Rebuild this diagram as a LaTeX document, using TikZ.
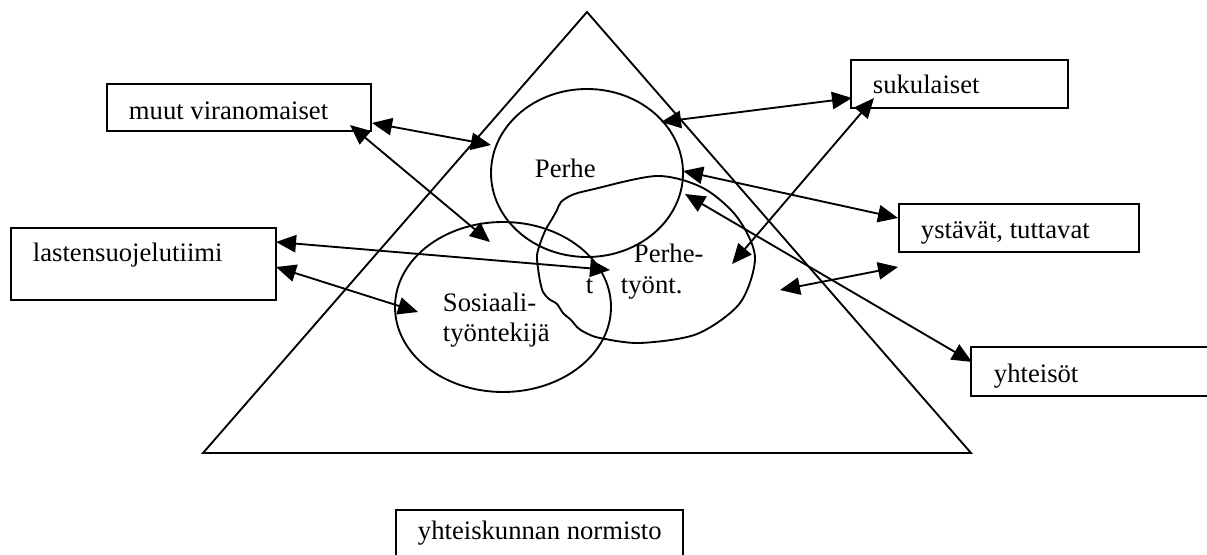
\documentclass[tikz,border=0pt]{standalone}
\usepackage{fontspec}
\setmainfont{Liberation Serif}
\usetikzlibrary{arrows.meta,shapes.geometric,fit}
\begin{document}
\begin{tikzpicture}[x=0.75pt,y=-0.75pt,
  line width=1.4pt,
  box/.style={draw, rectangle, inner sep=0pt},
  lbl/.style={font=\fontsize{20}{24}\selectfont, inner sep=0pt, anchor=base west},
  oval/.style={draw, ellipse, inner sep=0pt},
  dbl/.style={{Triangle[length=15pt,width=13pt]}-{Triangle[length=15pt,width=13pt]}}]
\useasboundingbox (0,0) rectangle (1207,555);
\clip (0,0) rectangle (1207,555);

% triangle
\draw[line join=miter] (587,12) -- (203,453) -- (971,453) -- cycle;

% boxes
\node[box, fit={(107,84) (371,131)}] (muut) {};
\node[box, fit={(11,228) (276,300)}] (lasten) {};
\node[box, fit={(851,60) (1068,108)}] (suku) {};
\node[box, fit={(899,204) (1139,252)}] (ystavat) {};
\node[box, fit={(971,347) (1230,396)}] (yhteisot) {};
\node[box, fit={(396,510) (683,580)}] (normisto) {};

\node[lbl] at (128,120) {muut viranomaiset};
\node[lbl] at (32,262) {lastensuojelutiimi};
\node[lbl] at (872,94) {sukulaiset};
\node[lbl] at (920,239) {ystävät, tuttavat};
\node[lbl] at (993,383) {yhteisöt};
\node[lbl] at (417,540) {yhteiskunnan normisto};

% ellipses
\node[oval, minimum width=192*0.75pt, minimum height=168*0.75pt] (perhe) at (587,173) {};
\node[oval, minimum width=216*0.75pt, minimum height=170*0.75pt] (sosiaali) at (503,307) {};
% Perhetyont freeform (wavy left side)
\draw plot[smooth cycle, tension=0.5] coordinates {
  (590,190) (572,195) (561,202) (557,210) (552,219) (546,229) (541,241)
  (537,255) (538,268) (540,281) (543,292) (549,299) (557,304) (563,313)
  (571,320) (578,328) (586,333) (600,338) (640,343) (697,334) (740,303)
  (755,257) (737,217) (703,188) (657,176)};

\node[lbl] at (534,178) {Perhe};
\node[lbl] at (442,312) {Sosiaali-};
\node[lbl] at (442,342) {työntekijä};
\node[lbl] at (633,263) {Perhe-};
\node[lbl] at (620,294) {työnt.};
\node[lbl] at (585,294) {t};

% arrow end points
\coordinate (a1s) at (372,123); \coordinate (a1e) at (491,145);
\coordinate (a2s) at (350,125); \coordinate (a2e) at (490,242);
\coordinate (a3s) at (276,242); \coordinate (a3e) at (610,270);
\coordinate (a4s) at (276,267); \coordinate (a4e) at (418,312);
\coordinate (a5s) at (661,122); \coordinate (a5e) at (852,98);
\coordinate (a6s) at (874,98);  \coordinate (a6e) at (732,264);
\coordinate (a7s) at (683,171); \coordinate (a7e) at (898,218);
\coordinate (a8s) at (685,194); \coordinate (a8e) at (972,362);
\coordinate (a9s) at (780,290); \coordinate (a9e) at (898,267);

\draw[dbl] (a1s) -- (a1e);
\draw[dbl] (a2s) -- (a2e);
\draw[dbl] (a3s) -- (a3e);
\draw[dbl] (a4s) -- (a4e);
\draw[dbl] (a5s) -- (a5e);
\draw[dbl] (a6s) -- (a6e);
\draw[dbl] (a7s) -- (a7e);
\draw[dbl] (a8s) -- (a8e);
\draw[dbl] (a9s) -- (a9e);
\end{tikzpicture}
\end{document}
